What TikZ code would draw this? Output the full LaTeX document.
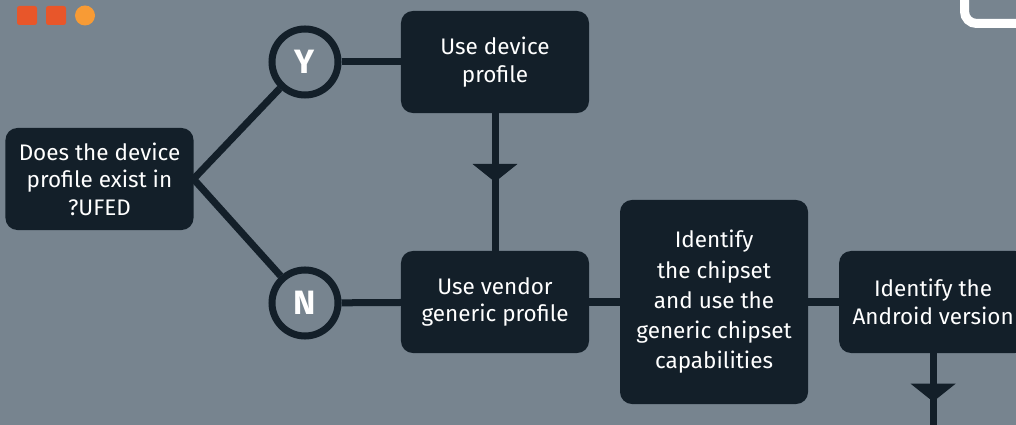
\documentclass[tikz,border=0pt]{standalone}
\usepackage{fontspec}
\setmainfont{Fira Sans}
\usetikzlibrary{arrows.meta}
\usetikzlibrary{decorations.markings}
\usetikzlibrary{positioning}

\definecolor{slate}{RGB}{119,132,143}
\definecolor{ink}{RGB}{19,31,41}
\definecolor{brick}{RGB}{232,86,42}
\definecolor{amber}{RGB}{248,155,53}

\begin{document}
\begin{tikzpicture}[x=0.025cm,y=-0.025cm,line width=0.175cm,
    task box/.style={rectangle,rounded corners=0.3cm,fill=ink,text=white,outer sep=0pt,
        minimum width=4.7cm,minimum height=2.55cm,inner sep=0pt,align=center,
        font=\fontsize{16}{19.5}\selectfont},
    choice node/.style={circle,draw=ink,text=white,minimum size=1.65cm,inner sep=0pt,
        font=\fontsize{24}{24}\selectfont\bfseries},
    down tip/.style={postaction={decorate},decoration={markings,
        mark=at position #1 with {\arrow{Triangle[width=1.1cm,length=0.45cm]}}}},
    down tip/.default=0.5]
    \path[use as bounding box] (0,0) rectangle (1016,425);
    \clip (0,0) rectangle (1016,425);
    \fill[slate] (0,0) rectangle (1016,425);
    \fill[brick,rounded corners=0.06cm] (17,6) rectangle (37,25) (46,6) rectangle (66,25);
    \fill[amber] (85,15.5) circle (0.25cm);
    \draw[white,line width=0.225cm,rounded corners=0.3cm] (964.5,-30) rectangle (1060,23.5);

    \node[task box] (exist) at (99.5,179) {Does the device\\profile exist in\\?UFED};
    \node[choice node] (yes) at (305,62) {Y};
    \node[choice node] (no) at (305,303) {N};
    \node[task box] (device) at (495,62) {Use device\\profile};
    \node[task box] (vendor) at (495,302) {Use vendor\\generic profile};
    \node[task box,minimum height=5.1cm,font=\fontsize{16}{21.5}\selectfont] (chipset) [right=0.775cm of vendor] {Identify\\the chipset\\and use the\\generic chipset\\capabilities};
    \node[task box] (android) [right=0.775cm of chipset] {Identify the\\Android version};
    \coordinate (out) at (android.south |- 0,440);

    \path[ink]
        (exist.east)
        edge (yes)
        edge (no)

        (yes) edge (device)
        (no) edge (vendor)
        (vendor) edge (chipset)
        (chipset) edge (android)

        (device) edge[down tip=0.5] (vendor)
        (android.south) edge[down tip=0.56] (out);
\end{tikzpicture}
\end{document}
